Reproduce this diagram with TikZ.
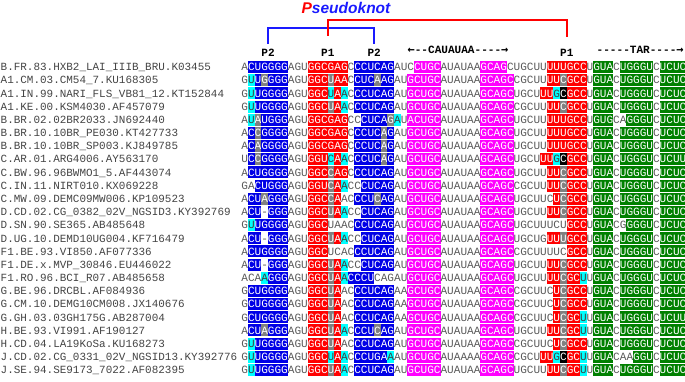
\documentclass[tikz,border=0pt]{standalone}
\usepackage{fontspec}
\setmonofont{Liberation Mono}
\newfontfamily\arrfont{DejaVu Sans Mono}
\newfontfamily\pkfont{Liberation Sans}
\definecolor{hlblue}{HTML}{0000E6}
\definecolor{hlred}{HTML}{FF0000}
\definecolor{hlmag}{HTML}{FF00FF}
\definecolor{hlgreen}{HTML}{008000}
\definecolor{hlcyan}{HTML}{00FFFF}
\definecolor{hlgray}{HTML}{808080}
\definecolor{plaintxt}{HTML}{5A5A5A}
\definecolor{nametxt}{HTML}{444444}
\definecolor{brblue}{HTML}{1A1AFF}
\tikzset{
  cellb/.style={fill=hlblue}, cellr/.style={fill=hlred}, cellc/.style={fill=hlcyan},
  cellg/.style={fill=hlgray}, cellk/.style={fill=black}, cellm/.style={fill=hlmag},
  celle/.style={fill=hlgreen},
  txtn/.style={text=plaintxt}, txtb/.style={text=white}, txtr/.style={text=white},
  txtc/.style={text=black!75}, txtg/.style={text=white}, txtk/.style={text=white},
  txtm/.style={text=white}, txte/.style={text=white},
  seqch/.style={anchor=base, inner sep=0pt, font=\ttfamily\fontsize{11.07}{13}\selectfont},
  nm/.style={anchor=base west, inner sep=0pt, text=nametxt, font=\ttfamily\fontsize{10.95}{13}\selectfont},
  lbl/.style={inner sep=0pt, text=black, font=\ttfamily\bfseries\fontsize{11.07}{13}\selectfont},
  brb/.style={draw=brblue, line width=2.5pt, line join=miter},
  brr/.style={draw=hlred, line width=2.5pt, line join=miter}
}
\newcount\colidx
\newcount\rowidx
\def\drawcell#1#2{%
  \global\advance\colidx by 1
  \pgfmathsetmacro\cx{241.4+(\the\colidx-0.5)*6.64}%
  \if#2n\else\fill[cell#2] (\cx-3.42,\rowy-6) rectangle (\cx+3.42,\rowy+6);\fi
  \node[seqch,txt#2] (c-\the\rowidx-\the\colidx) at (\cx,\rowy+3.8) {#1};}
\def\docells#1#2\relax#3#4\relax{%
  \drawcell{#1}{#3}%
  \ifx\relax#2\relax\else\docells#2\relax#4\relax\fi}
\def\seqrow#1#2#3{%
  \global\rowidx=#1\relax
  \pgfmathsetmacro\rowy{67+(#1-1)*13.17}%
  \global\colidx=0\relax
  \docells#2\relax#3\relax}
\def\namerow#1#2{%
  \pgfmathsetmacro\ny{67+(#1-1)*13.17+3.8}%
  \node[nm] (name#1) at (0.5,\ny) {#2};}
\begin{document}
\begin{tikzpicture}[x=1pt,y=-1pt]
\fill[white] (0,0) rectangle (685,382);
\useasboundingbox (0,0) rectangle (685,382);
% header
\node (pk) at (346,8) {\pkfont\bfseries\itshape\fontsize{15.5}{18}\selectfont\textcolor{hlred}{P}\textcolor{brblue}{seudoknot}};
\node[lbl] (p2a) at (268.0,53) {P2};
\node[lbl] (p1a) at (327.8,53) {P1};
\node[lbl] (p2b) at (374.2,53) {P2};
\node[lbl] (p1b) at (566.8,53) {P1};
\node[lbl,anchor=west] (cau) at (407.4,50) {{\arrfont\bfseries\fontsize{12}{13}\selectfont ←}--CAUAUAA----{\arrfont\bfseries\fontsize{12}{13}\selectfont →}};
\node[lbl,anchor=west] (tar) at (596.5,50) {-----TAR----{\arrfont\bfseries\fontsize{12}{13}\selectfont →}};
\coordinate (bl) at (268.0,44);
\coordinate (br) at (374.2,44);
\coordinate (rl) at (327.8,36);
\coordinate (rr) at (566.8,37);
\draw[brb] (bl) -- ++(0,-16) -| (br);
\draw[brr] (rl) -- ++(0,-16) -| (rr);
% names
\namerow{1}{B.FR.83.HXB2\_LAI\_IIIB\_BRU.K03455}
\namerow{2}{A1.CM.03.CM54\_7.KU168305}
\namerow{3}{A1.IN.99.NARI\_FLS\_VB81\_12.KT152844}
\namerow{4}{A1.KE.00.KSM4030.AF457079}
\namerow{5}{B.BR.02.02BR2033.JN692440}
\namerow{6}{B.BR.10.10BR\_PE030.KT427733}
\namerow{7}{B.BR.10.10BR\_SP003.KJ849785}
\namerow{8}{C.AR.01.ARG4006.AY563170}
\namerow{9}{C.BW.96.96BWMO1\_5.AF443074}
\namerow{10}{C.IN.11.NIRT010.KX069228}
\namerow{11}{C.MW.09.DEMC09MW006.KP109523}
\namerow{12}{D.CD.02.CG\_0382\_02V\_NGSID3.KY392769}
\namerow{13}{D.SN.90.SE365.AB485648}
\namerow{14}{D.UG.10.DEMD10UG004.KF716479}
\namerow{15}{F1.BE.93.VI850.AF077336}
\namerow{16}{F1.DE.x.MVP\_30846.EU446022}
\namerow{17}{F1.RO.96.BCI\_R07.AB485658}
\namerow{18}{G.BE.96.DRCBL.AF084936}
\namerow{19}{G.CM.10.DEMG10CM008.JX140676}
\namerow{20}{G.GH.03.03GH175G.AB287004}
\namerow{21}{H.BE.93.VI991.AF190127}
\namerow{22}{H.CD.04.LA19KoSa.KU168273}
\namerow{23}{J.CD.02.CG\_0331\_02V\_NGSID13.KY392776}
\namerow{24}{J.SE.94.SE9173\_7022.AF082395}
% sequences
\seqrow{1}{A CUGGGG AGU GGCGAG C CCUCAG AUC CUGC AUAUAA GCAG CUGCUU UUUGCC U GUA C UGGGU C UCUC}{n bbbbbb nnn rrrrrr n bbbbbb nnn mmmm nnnnnn mmmm nnnnnn rrrrrr n eee n eeeee n eeee}
\seqrow{2}{G UUGGGG AGU GGCUAA C CUCAAG AU GCUGC AUAUAA GCAGC CGCUU UUCGCC U GUA C UGGGU C UCUC}{n cbgbbb nnn rrrgrr n bbbgbb nn mmmmm nnnnnn mmmmm nnnnn rrgrrr n eee n eeeee n eeee}
\seqrow{3}{G UUGGGG AGU GGCUAA C CCUCAG AU GCUGC AUAUAA GCAGC UGCU UUGCGCC U GUA C UGGGU C UCUC}{n cbbbbb nnn rrrcrc n bbbbbb nn mmmmm nnnnnn mmmmm nnnn rrckrrr n eee n eeeee n eeee}
\seqrow{4}{G UUGGGG AGU GGCUAA C CCUCAG AU GCUGC AUAUAA GCAGC CGCUU UUCGCC U GUA C UGGGU C UCUC}{n cbbbbb nnn rrrgrc n bbbbbb nn mmmmm nnnnnn mmmmm nnnnn rrgrrr n eee n eeeee n eeee}
\seqrow{5}{A UAUGGG AGU GGCGAG C CCUCAG AU ACUGC AUAUAA GCAGC UGCUU UUUGCC U GUG CA GGGU C UCUC}{n cgbbbb nnn rrrrrr n nbbbbg cn mmmmm nnnnnn mmmmm nnnnn rrrrrr n eee nn eeee n eeee}
\seqrow{6}{A CCGGGG AGU GGCGAG C CCUCAG AU GCUGC AUAUAA GCAGC UGCUU UUUGCC U GUA C UGGGU C UCUC}{n bgbbbb nnn rrrrrr n bbbbgb nn mmmmm nnnnnn mmmmm nnnnn rrrrrr n eee n eeeee n eeee}
\seqrow{7}{A CAGGGG AGU GGCGAG C CCUCAG AU GCUGC AUAUAA GCAGC UGCUU UUUGCC U GUA C UGGGU C UCUC}{n bgbbbb nnn rrrrrr n bbbbgb nn mmmmm nnnnnn mmmmm nnnnn rrrrrr n eee n eeeee n eeee}
\seqrow{8}{U CCGGGG AGU GGUCAA C CCUCAG AU GCUGC AUAUAA GCAGC UGCU UUGCGCC U GUA C UGGGU C UCUU}{n bgbbbb nnn rrrcrc n bbbbgb nn mmmmm nnnnnn mmmmm nnnn rrckrrr n eee n eeeee n eeee}
\seqrow{9}{A CUGGGG AGU GGCCAG C CCUCAG AU GCUGC AUAUAA GCAGC UGCUU UUCGCC U GUA C UGGGU C UCUC}{n bbbbbb nnn rrrgrr n bbbbbb nn mmmmm nnnnnn mmmmm nnnnn rrgrrr n eee n eeeee n eeee}
\seqrow{10}{G ACUGGG AGU GGUCAA C CCUCAG AU GCUGC AUAUAA GCAGC CGCUU UUCGCC U GUA C UGGGU C UCUC}{n nbbbbb nnn rrrgrc n nbbbbb nn mmmmm nnnnnn mmmmm nnnnn rrgrrr n eee n eeeee n eeee}
\seqrow{11}{A CUAGGG AGU GGCCAA C CCUCAG AU GCUGC AUAUAA GCAGC UGCUUC UCGCC U GUA C UGGGU C UCUC}{n bbgbbb nnn rrrgrn n bbbgbb nn mmmmm nnnnnn mmmmm nnnnnn rgrrr n eee n eeeee n eeee}
\seqrow{12}{A CU-GGG AGU GGCUAA C CCUCAG AU GCUGC AUAUAA GCAGC UGCUU UUCGCC U GUA C UGGGU C UCUC}{n bbnbbb nnn rrrgrc n nbbbbb nn mmmmm nnnnnn mmmmm nnnnn rrgrrr n eee n eeeee n eeee}
\seqrow{13}{G UUGGGG AGU GGCUAA C CCUCAG AU GCUGC AUAUAA GCAGC UGCUUUCU GCC U GUA C GGGGU C UCUC}{n cbbbbb nnn rrrnnn n bbbbbb nn mmmmm nnnnnn mmmmm nnnnnnnn rrr n eee n neeee n eeee}
\seqrow{14}{A CU-GGG AGU GGCUAA C CCUCAG AU GCUGC AUAUAA GCAGC UGCUG UUUGCC U GUA C UGGGU C UCUC}{n bbnbbb nnn rrrgrc n nbbbbb nn mmmmm nnnnnn mmmmm nnnnn rrgrrr n eee n eeeee n eeee}
\seqrow{15}{A CUGGGG AGU GGCUCA C CCUCAG AU GCUGC AUAUAA GCAGC CGCUUUUC GCC U GUA C UGGGU C UCUC}{n bbbbbb nnn rrrnnn n bbbbbb nn mmmmm nnnnnn mmmmm nnnnnnnn rrr n eee n eeeee n eeee}
\seqrow{16}{A CU-GGG AGU GGCUAA C CCUCAG AU GCUGC AUAUAA GCAGC UGCUU UUCGCC U GUA C UGGGU C UCUC}{n bbnbbb nnn rrrgrc n nbbbbb nn mmmmm nnnnnn mmmmm nnnnn rrgrrr n eee n eeeee n eeee}
\seqrow{17}{A CAAGGG AGU GGCUAA C CCUCAG AU GCUGC AUAUAA GCAGC UGCUU UUCGCU U GUA C UGGGU C UCUC}{n nncbbb nnn rrrgrc b bbbnnn nn mmmmm nnnnnn mmmmm nnnnn rrgrrc n eee n eeeee n eeee}
\seqrow{18}{G CUGGGG AGU GGCUAA C CCUCAG AA GCUGC AUAUAA GCAGC CGCUUC UCGCC U GUA C UGGGU C UCUC}{n bbbbbb nnn rrrgrn n bbbbbb nn mmmmm nnnnnn mmmmm nnnnnn rgrrr n eee n eeeee n eeee}
\seqrow{19}{G CUGGGG AGU GGCUAA C CCUCAG AA GCUGC AUAUAA GCAGC CGCUUC UCGCC U GUA C UGGGU C UCUC}{n bbbbbb nnn rrrgrn n bbbbbb nn mmmmm nnnnnn mmmmm nnnnnn rgrrr n eee n eeeee n eeee}
\seqrow{20}{G CUGGGG AGU GGCUAA C CCUCAG AA GCUGC AUAUAA GCAGC CGCUUC UCGCU U GUA C UGGGU C UCUU}{n bbbbbb nnn rrrgrn n bbbbbb nn mmmmm nnnnnn mmmmm nnnnnn rgrrc n eee n eeeee n eeee}
\seqrow{21}{A CUAGGG AGU GGCUAA C CCUCAG AU GCUGC AUAUAA GCAGC UGCUU UUCGCU U GUA C UGGGU C UCUC}{n bbgbbb nnn rrrgrc n bbbgbb nn mmmmm nnnnnn mmmmm nnnnn rrgrrc n eee n eeeee n eeee}
\seqrow{22}{G UUGGGG AGU GGCUAA C CCUCAG AU GCUGC AUAUAA GCAGC CGCUUC UCGCC U GUA C UGGGU C UCUC}{n cbbbbb nnn rrrgrn n bbbbbb nn mmmmm nnnnnn mmmmm nnnnnn rgrrr n eee n eeeee n eeee}
\seqrow{23}{G UUGGGG AGU GGCUAA C CCUGAA AU GCUGC AUAAAA GCAGC CGCU UUGCGCU U GUA CAA GGU C UCUC}{n cbbbbb nnn rrrcrc n bbbbbc nn mmmmm nnnnnn mmmmm nnnn rrckrrc n eee nnn eee n eeee}
\seqrow{24}{G UUGGGG AGU GGCUAA C CCUCAG AU GCUGC AUAUAA GCAGC UGCUU UUCGCU U GUA C UGGGU C UCUC}{n cbbbbb nnn rrrgrc n bbbbbb nn mmmmm nnnnnn mmmmm nnnnn rrgrrc n eee n eeeee n eeee}
\end{tikzpicture}
\end{document}
